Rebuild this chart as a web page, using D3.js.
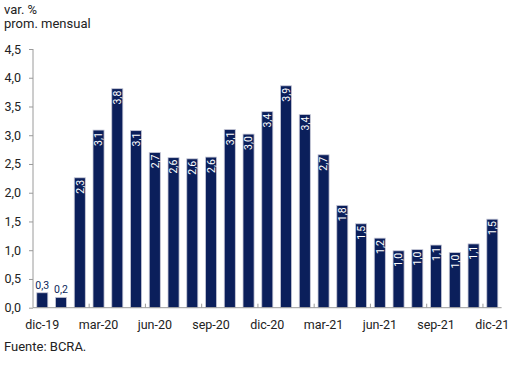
<!DOCTYPE html>
<html>
<head>
<meta charset="utf-8">
<script src="https://d3js.org/d3.v7.min.js"></script>
<style>
  body { margin: 0; background: #fff; }
  text { font-family: Roboto, "Noto Sans", sans-serif; }
</style>
</head>
<body>
<svg id="vis" width="512" height="384"></svg>
<script>
    // months dic-19 .. dic-21
    var months = ["dic-19","ene-20","feb-20","mar-20","abr-20","may-20","jun-20","jul-20","ago-20","sep-20","oct-20","nov-20",
                  "dic-20","ene-21","feb-21","mar-21","abr-21","may-21","jun-21","jul-21","ago-21","sep-21","oct-21","nov-21","dic-21"]
    var values = [0.26, 0.18, 2.26, 3.09, 3.81, 3.08, 2.70, 2.61, 2.59, 2.62, 3.10, 3.02,
                  3.41, 3.86, 3.36, 2.66, 1.78, 1.46, 1.21, 0.99, 1.01, 1.09, 0.96, 1.11, 1.54]
    var yTicks = [0, 0.5, 1, 1.5, 2, 2.5, 3, 3.5, 4, 4.5]
    var xLabels = ["dic-19","mar-20","jun-20","sep-20","dic-20","mar-21","jun-21","sep-21","dic-21"]

    var fmt = function(v) { return d3.format(".1f")(v).replace(".", ",") }

    var svg = d3.select("#vis")

    var x = d3.scaleBand()
        .domain(months)
        .range([33, 501.6])
        .paddingInner(0.41)
        .paddingOuter(0.2)

    var y = d3.scaleLinear()
        .domain([0, 4.5])
        .range([307.7, 49])

    // y axis
    var yAxis = svg.append("g")
        .attr("transform", "translate(33,0)")
        .call(d3.axisLeft(y).tickValues(yTicks).tickSize(4).tickFormat(fmt))
    yAxis.select(".domain").attr("stroke", "#9a9a9a").attr("d", "M0," + y(4.5) + "V" + y(0))
    yAxis.selectAll(".tick line").attr("stroke", "#9a9a9a")
    yAxis.selectAll(".tick text")
        .attr("x", -12)
        .attr("fill", "#222")
        .style("font-size", "12.5px")

    // bars
    svg.selectAll("rect.bar")
        .data(values)
        .enter().append("rect")
        .attr("class", "bar")
        .attr("x", function(d, i) { return x(months[i]) })
        .attr("y", function(d) { return y(d) })
        .attr("width", x.bandwidth())
        .attr("height", function(d) { return y(0) - y(d) })
        .attr("fill", "#0b1f5b")
        .attr("stroke", "#c9cad8")
        .attr("stroke-width", 0.8)

    // x axis
    var xAxis = svg.append("g")
        .attr("transform", "translate(0," + y(0) + ")")
        .call(d3.axisBottom(x).tickValues(xLabels).tickSize(0).tickPadding(12))
    xAxis.select(".domain").attr("stroke", "#9a9a9a").attr("d", "M33,0H501.6")
    xAxis.selectAll(".tick text")
        .attr("fill", "#222")
        .style("font-size", "12.5px")

    // quarter separators (ticks between bars)
    var step = x.step()
    var seps = months.filter(function(m, i) { return i > 0 && i % 3 === 0 })
    svg.selectAll("line.sep")
        .data(seps)
        .enter().append("line")
        .attr("x1", function(m) { return x(m) - step * x.paddingInner() / 2 })
        .attr("x2", function(m) { return x(m) - step * x.paddingInner() / 2 })
        .attr("y1", y(0))
        .attr("y2", y(0) - 4)
        .attr("stroke", "#9a9a9a")

    // value labels
    svg.selectAll("text.val")
        .data(values)
        .enter().append("text")
        .attr("class", "val")
        .style("font-size", "10.5px")
        .each(function(d, i) {
            var t = d3.select(this)
            var cx = x(months[i]) + x.bandwidth() / 2
            t.text(fmt(d))
            if (d < 0.5) {
                t.attr("x", cx).attr("y", y(d) - 4)
                 .attr("text-anchor", "middle")
                 .attr("fill", "#0b1f5b")
            } else {
                t.attr("transform", "translate(" + (cx + 3.8) + "," + (y(d) + 2) + ") rotate(-90)")
                 .attr("text-anchor", "end")
                 .attr("fill", "#fff")
            }
        })

    // titles
    svg.append("text").attr("x", 4).attr("y", 14).attr("fill", "#222").style("font-size", "13px").text("var. %")
    svg.append("text").attr("x", 4).attr("y", 28).attr("fill", "#222").style("font-size", "13px").text("prom. mensual")
    svg.append("text").attr("x", 4).attr("y", 351).attr("fill", "#222").style("font-size", "13px").text("Fuente: BCRA.")
</script>
</body>
</html>
